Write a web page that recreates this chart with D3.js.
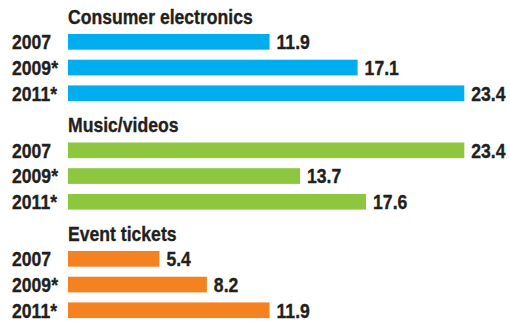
<!DOCTYPE html>
<html>
<head>
<meta charset="utf-8">
<script src="https://cdn.jsdelivr.net/npm/d3@7"></script>
<style>
  html, body { margin: 0; padding: 0; background: #fff; }
  svg text { font-family: "Liberation Sans", Arial, sans-serif; font-weight: bold; fill: #231f20; stroke: #231f20; stroke-width: 0.35; }
</style>
</head>
<body>
<svg id="chart" width="510" height="321"></svg>
<script>
// Online spending by category (values per year)
const categories = ["Consumer electronics", "Music/videos", "Event tickets"];
const years = ["2007", "2009*", "2011*"];
const consumerElectronics = [11.9, 17.1, 23.4];
const musicVideos = [23.4, 13.7, 17.6];
const eventTickets = [5.4, 8.2, 11.9];
const colors = ["#00aeef", "#8dc63f", "#f58220"];

const seriesValues = [consumerElectronics, musicVideos, eventTickets];

const svg = d3.select("#chart");

// condensed look for all labels
const squeeze = 0.88;
const label = (sel, fx, fy) => sel
  .attr("transform", d => `translate(${fx(d)},${fy(d)}) scale(${squeeze},1)`)
  .attr("font-size", 20);

const x = d3.scaleLinear().domain([0, 23.4]).range([68, 464.3]);

// one band per category block
const groupY = d3.scaleBand().domain(categories).range([0, 325.5]).paddingInner(0).paddingOuter(0);

// rows within a block
const rowY = d3.scaleBand().domain(years).range([34, 101.1]).paddingInner(0.39).paddingOuter(0);

const groups = svg.selectAll("g.group")
  .data(categories.map((c, i) => ({ name: c, values: seriesValues[i], color: colors[i] })))
  .join("g")
  .attr("class", "group")
  .attr("transform", d => `translate(0,${groupY(d.name)})`);

groups.append("text")
  .call(label, () => 68, () => 23.8)
  .text(d => d.name);

const rows = groups.selectAll("g.row")
  .data(d => d.values.map((v, j) => ({ year: years[j], value: v, color: d.color })))
  .join("g")
  .attr("class", "row");

rows.append("rect")
  .attr("x", x(0))
  .attr("y", d => rowY(d.year))
  .attr("width", d => x(d.value) - x(0))
  .attr("height", rowY.bandwidth())
  .attr("fill", d => d.color);

rows.append("text")
  .call(label, () => 12, d => rowY(d.year) + rowY.bandwidth() - 0.5)
  .text(d => d.year);

rows.append("text")
  .call(label, d => x(d.value) + 7, d => rowY(d.year) + rowY.bandwidth() - 0.5)
  .text(d => d.value.toFixed(1));
</script>
</body>
</html>
